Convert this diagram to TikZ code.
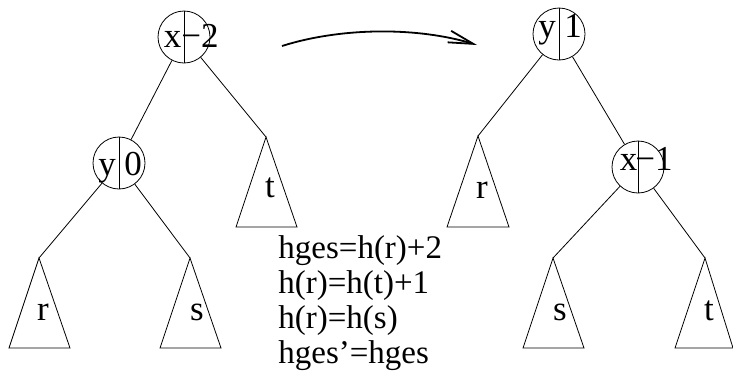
\documentclass[tikz,border=0pt]{standalone}
\usepackage{fontspec}
\setmainfont{Liberation Serif}
\usetikzlibrary{arrows.meta}
\begin{document}
\begin{tikzpicture}[x=1bp,y=-1bp,line width=0.8bp,
  knot/.style={circle,draw,minimum size=52bp,inner sep=0pt},
  lbl/.style={anchor=base,inner sep=0pt,font=\fontsize{35bp}{38bp}\selectfont},
  eq/.style={anchor=base west,inner sep=0pt,font=\fontsize{33bp}{36bp}\selectfont},
  tri/.style={line join=miter}]
\useasboundingbox (0,0) rectangle (733,379);
% left tree
\node[knot] (x1) at (184,37) {};
\draw (x1.north) -- (x1.south);
\node[lbl] (x1a) at (172.5,47) {x};
\node[lbl] (x1b) at (200,47) {−2};
\node[knot] (y1) at (119,163) {};
\draw (y1.north) -- (y1.south);
\node[lbl] (y1a) at (107,175) {y};
\node[lbl] (y1b) at (133,175) {0};
\coordinate (rA) at (39,258);
\coordinate (sA) at (190,258);
\coordinate (tA) at (266,137);
\draw[tri] (rA) -- (9,348) -- (70,348) -- cycle;
\draw[tri] (sA) -- (160,348) -- (221,348) -- cycle;
\draw[tri] (tA) -- (236,227) -- (297,227) -- cycle;
\node[lbl] (rl) at (43,320) {r};
\node[lbl] (sl) at (197,320) {s};
\node[lbl] (tl) at (270,197) {t};
\draw (x1) -- (y1);
\draw (x1) -- (tA);
\draw (y1) -- (rA);
\draw (y1) -- (sA);
% right tree
\node[knot] (y2) at (559,34) {};
\draw (y2.north) -- (y2.south);
\node[lbl] (y2a) at (547,37) {y};
\node[lbl] (y2b) at (573,37) {1};
\node[knot] (x2) at (638,167) {};
\draw (x2.north) -- (x2.south);
\node[lbl] (x2a) at (628.5,170) {x};
\node[lbl] (x2b) at (654,170) {−1};
\coordinate (rB) at (478,136);
\coordinate (sB) at (553,258);
\coordinate (tB) at (705,258);
\draw[tri] (rB) -- (447,227) -- (509,227) -- cycle;
\draw[tri] (sB) -- (523,348) -- (584,348) -- cycle;
\draw[tri] (tB) -- (675,348) -- (733,348) -- cycle;
\node[lbl] (rr) at (482,198) {r};
\node[lbl] (sr) at (560,320) {s};
\node[lbl] (tr) at (709,320) {t};
\draw (y2) -- (rB);
\draw (y2) -- (x2);
\draw (x2) -- (sB);
\draw (x2) -- (tB);
% arrow
\coordinate (a0) at (282,46);
\coordinate (a1) at (477,45);
\draw[line width=1.8bp,-{Straight Barb[length=25bp,width=12bp,line width=1.8bp]}] (a0) .. controls (342,27) and (418,27) .. (a1);
% equations
\node[eq] (e1) at (278,258) {hges=h(r)+2};
\node[eq] (e2) at (278,293) {h(r)=h(t)+1};
\node[eq] (e3) at (278,328) {h(r)=h(s)};
\node[eq] (e4) at (278,363) {hges’=hges};
\end{tikzpicture}
\end{document}
